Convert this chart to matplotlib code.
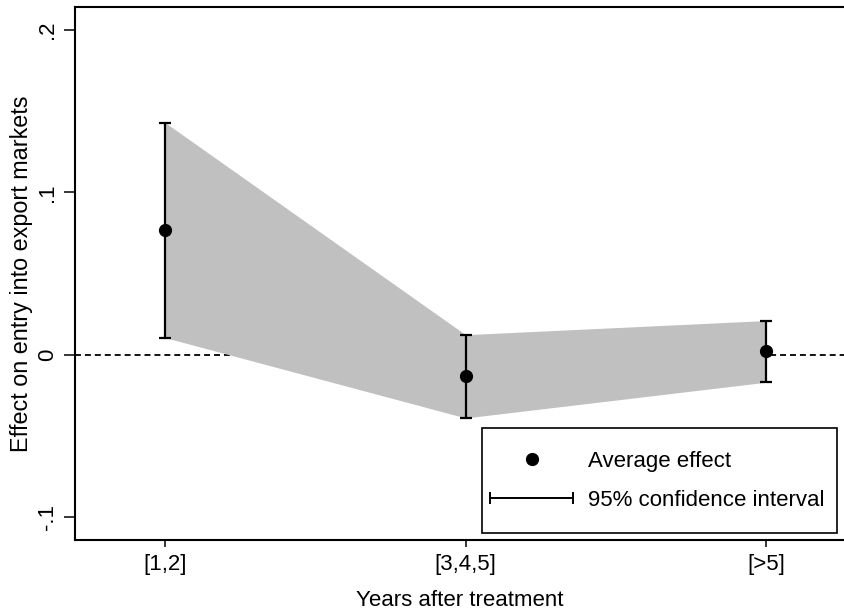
import numpy as np
import matplotlib.pyplot as plt
from matplotlib.lines import Line2D
from matplotlib.patches import Rectangle
from matplotlib.legend_handler import HandlerLine2D

plt.rcParams['font.family'] = ['Liberation Sans', 'DejaVu Sans']

groups = ['[1,2]', '[3,4,5]', '[>5]']
xpos = [1, 2, 3]
effect = [0.0765, -0.013, 0.002]
ci_low = [0.0105, -0.039, -0.017]
ci_high = [0.143, 0.0123, 0.021]

fs = 16

fig = plt.figure(figsize=(8.44, 6.14), dpi=100)
ax = fig.add_axes([75/844, 1 - 540/614, 769/844, 533/614])

ax.axhline(0, color='black', lw=1.3, ls=(0, (3.3, 2.2)), zorder=1)
ax.fill_between(xpos, ci_low, ci_high, color='#c0c0c0', lw=0, zorder=2)

err = [np.array(effect) - np.array(ci_low), np.array(ci_high) - np.array(effect)]
ax.errorbar(xpos, effect, yerr=err, fmt='none', ecolor='black', elinewidth=1.6,
            capsize=4.5, capthick=1.6, zorder=3)
ax.plot(xpos, effect, 'o', color='black', ms=8.5, zorder=4)

ax.set_xlim(0.70, 3.26)
ax.set_ylim(-0.1142, 0.2142)
ax.set_xticks(xpos)
ax.set_xticklabels(groups)
ax.set_yticks([-0.1, 0, 0.1, 0.2])
ax.set_yticklabels(['-.1', '0', '.1', '.2'], rotation=90, va='center')
ax.tick_params(axis='both', labelsize=fs, width=1.1, color='black')
ax.tick_params(axis='y', length=8, pad=4)
ax.tick_params(axis='x', length=5, pad=5)
for s in ['left', 'bottom', 'top']:
    ax.spines[s].set_linewidth(1.5)
ax.spines['right'].set_visible(False)

ax.set_xlabel('Years after treatment', fontsize=fs, labelpad=11)
ax.set_ylabel('Effect on entry into export markets', fontsize=16.8, labelpad=3)

# legend box drawn separately so its padding matches
ax.add_patch(Rectangle((0.529, 0.0131), 0.462, 0.197, transform=ax.transAxes,
                       facecolor='white', edgecolor='black', lw=1.2, zorder=5))
h_dot = Line2D([], [], ls='none', marker='o', color='black', ms=8.5)
h_ci = Line2D([], [], color='black', lw=1.4, marker='|', ms=8, mew=1.4)
leg = ax.legend([h_dot, h_ci], ['Average effect', '95% confidence interval'],
                handler_map={h_dot: HandlerLine2D(numpoints=1), h_ci: HandlerLine2D(numpoints=2)},
                loc='center', bbox_to_anchor=(0.753, 0.1106), fontsize=fs,
                frameon=False, handlelength=4.35, handletextpad=0.36,
                labelspacing=0.82, borderpad=0, borderaxespad=0)
leg.set_zorder(6)

fig.savefig('out.png', dpi=100)
